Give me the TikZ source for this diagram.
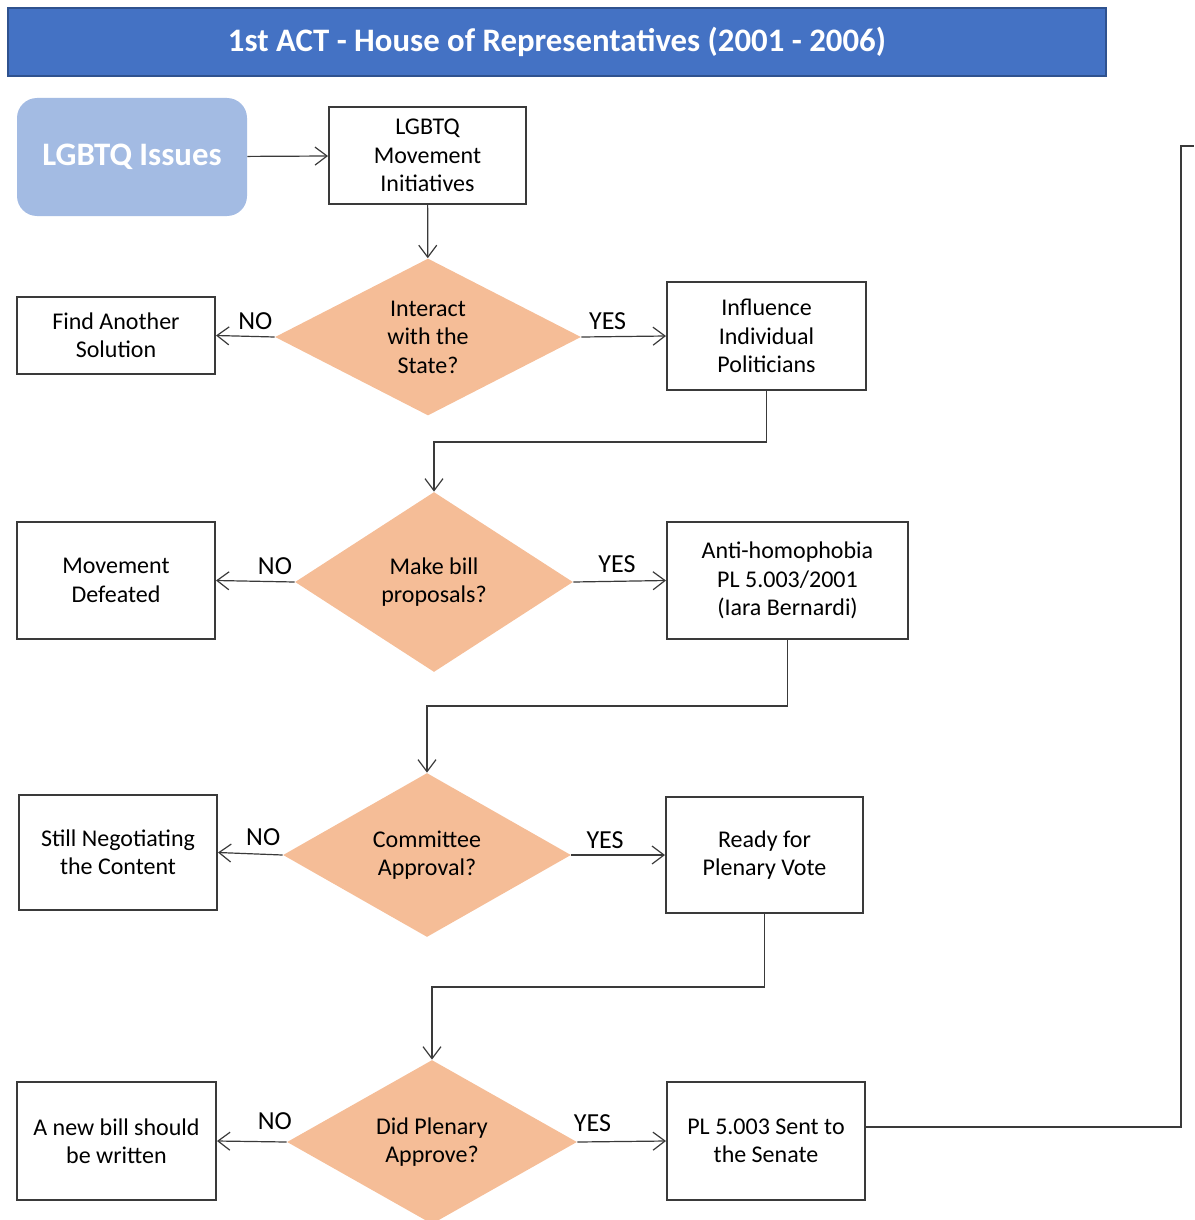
\documentclass[tikz,border=0pt]{standalone}
\usepackage{fontspec}
\setmainfont{Carlito}
\usepackage{tikz}
\usetikzlibrary{shapes.geometric, arrows.meta, positioning}
\usepackage{xcolor}
\definecolor{titleblue}{HTML}{4472C4}
\definecolor{titleedge}{HTML}{2F528F}
\definecolor{issueblue}{HTML}{A3BBE3}
\definecolor{decisionorange}{HTML}{F5BD97}
\definecolor{linegray}{HTML}{3A3A3A}

\begin{document}
\begin{tikzpicture}[x=0.5pt, y=-0.5pt,
    boxtext/.style={font=\fontsize{12}{14.2}\selectfont},
    title/.style={draw=titleedge, line width=1pt, fill=titleblue, text=white, font=\fontsize{16.4}{18}\selectfont\bfseries},
    issue/.style={fill=issueblue, rounded corners=10pt, text=white, font=\fontsize{16.4}{18}\selectfont\bfseries},
    box/.style={boxtext, draw=linegray, line width=1pt, fill=white, align=center, inner sep=2pt},
    decision/.style={boxtext, diamond, aspect=2, fill=decisionorange, inner sep=0pt, align=center},
    arrow/.style={draw=linegray, line width=0.6pt, -{Straight Barb[length=6pt, width=9pt]}},
    line/.style={draw=linegray, line width=0.6pt},
    answer/.style={font=\fontsize{13}{15}\selectfont, above, inner sep=3pt}
]

    \useasboundingbox (0,0) rectangle (1194,1220); % Fix the page size

    % Title bar
    \node[title, minimum width=549pt, minimum height=34pt] (title) at (557,42) {1st ACT - House of Representatives (2001 - 2006)};

    % Start
    \node[issue, minimum width=115pt, minimum height=59pt] (issues) at (132,157) {LGBTQ Issues};
    \node[box, minimum width=98.5pt, minimum height=48.5pt] (initiatives) at (427.5,155.5) {LGBTQ\\Movement\\Initiatives};

    % First decision
    \node[decision, minimum width=153pt, minimum height=78.5pt] (state) at (428,337) {Interact\\with the\\State?};
    \node[box, minimum width=99pt, minimum height=38.5pt] (another) at (116,335.5) {Find Another\\Solution};
    \node[box, minimum width=99.5pt, minimum height=54pt] (politicians) at (766.5,336) {Influence\\Individual\\Politicians};

    % Second decision
    \node[decision, minimum width=139pt, minimum height=90pt] (proposals) at (434,582) {Make bill\\proposals?};
    \node[box, minimum width=99pt, minimum height=58.5pt] (defeated) at (116,580.5) {Movement\\Defeated};
    \node[box, minimum width=120.5pt, minimum height=58.5pt] (bill) at (787.5,580.5) {Anti-homophobia\\PL 5.003/2001\\(Iara Bernardi)};

    % Third decision
    \node[decision, minimum width=144pt, minimum height=82pt] (committee) at (427,855) {Committee\\Approval?};
    \node[box, minimum width=99pt, minimum height=57.5pt] (negotiating) at (118,852.5) {Still Negotiating\\the Content};
    \node[box, minimum width=98.5pt, minimum height=58pt] (ready) at (764.5,855) {Ready for\\Plenary Vote};

    % Fourth decision
    \node[decision, minimum width=145pt, minimum height=82pt] (plenary) at (432,1142) {Did Plenary\\Approve?};
    \node[box, minimum width=99.5pt, minimum height=59pt] (newbill) at (116.5,1141) {A new bill should\\be written};
    \node[box, minimum width=99pt, minimum height=59pt] (senate) at (766,1141) {PL 5.003 Sent to\\the Senate};

    \coordinate (nextact) at (1194,146); % Leaves the picture

    % Connectors
    \draw[arrow] (issues) -- (initiatives);
    \draw[arrow] (initiatives) -- (state);
    \draw[arrow] (state.west) -- node[answer, pos=0.33] {NO} (another.east);
    \draw[arrow] (state.east) -- node[answer, pos=0.31] {YES} (politicians.west);
    \draw[arrow] (politicians.south) -- ++(0,51) -| (proposals.north);

    \draw[arrow] (proposals.west) -- node[answer, pos=0.25] {NO} (defeated.east);
    \draw[arrow] (proposals.east) -- node[answer, pos=0.47, yshift=1pt] {YES} (bill.west);
    \draw[arrow] (bill.south) -- ++(0,66) -| (committee.north);

    \draw[arrow] (committee.west) -- node[answer, pos=0.3, yshift=1pt] {NO} (negotiating.east);
    \draw[arrow] (committee.east) -- node[answer, pos=0.36] {YES} (ready.west);
    \draw[arrow] (ready.south) -- ++(0,73) -| (plenary.north);

    \draw[arrow] (plenary.west) -- node[answer, pos=0.17, yshift=3pt] {NO} (newbill.east);
    \draw[arrow] (plenary.east) -- node[answer, pos=0.17, yshift=2pt] {YES} (senate.west);
    \draw[line] ([yshift=7pt]senate.east) -- ++(315,0) |- (nextact);

\end{tikzpicture}
\end{document}
